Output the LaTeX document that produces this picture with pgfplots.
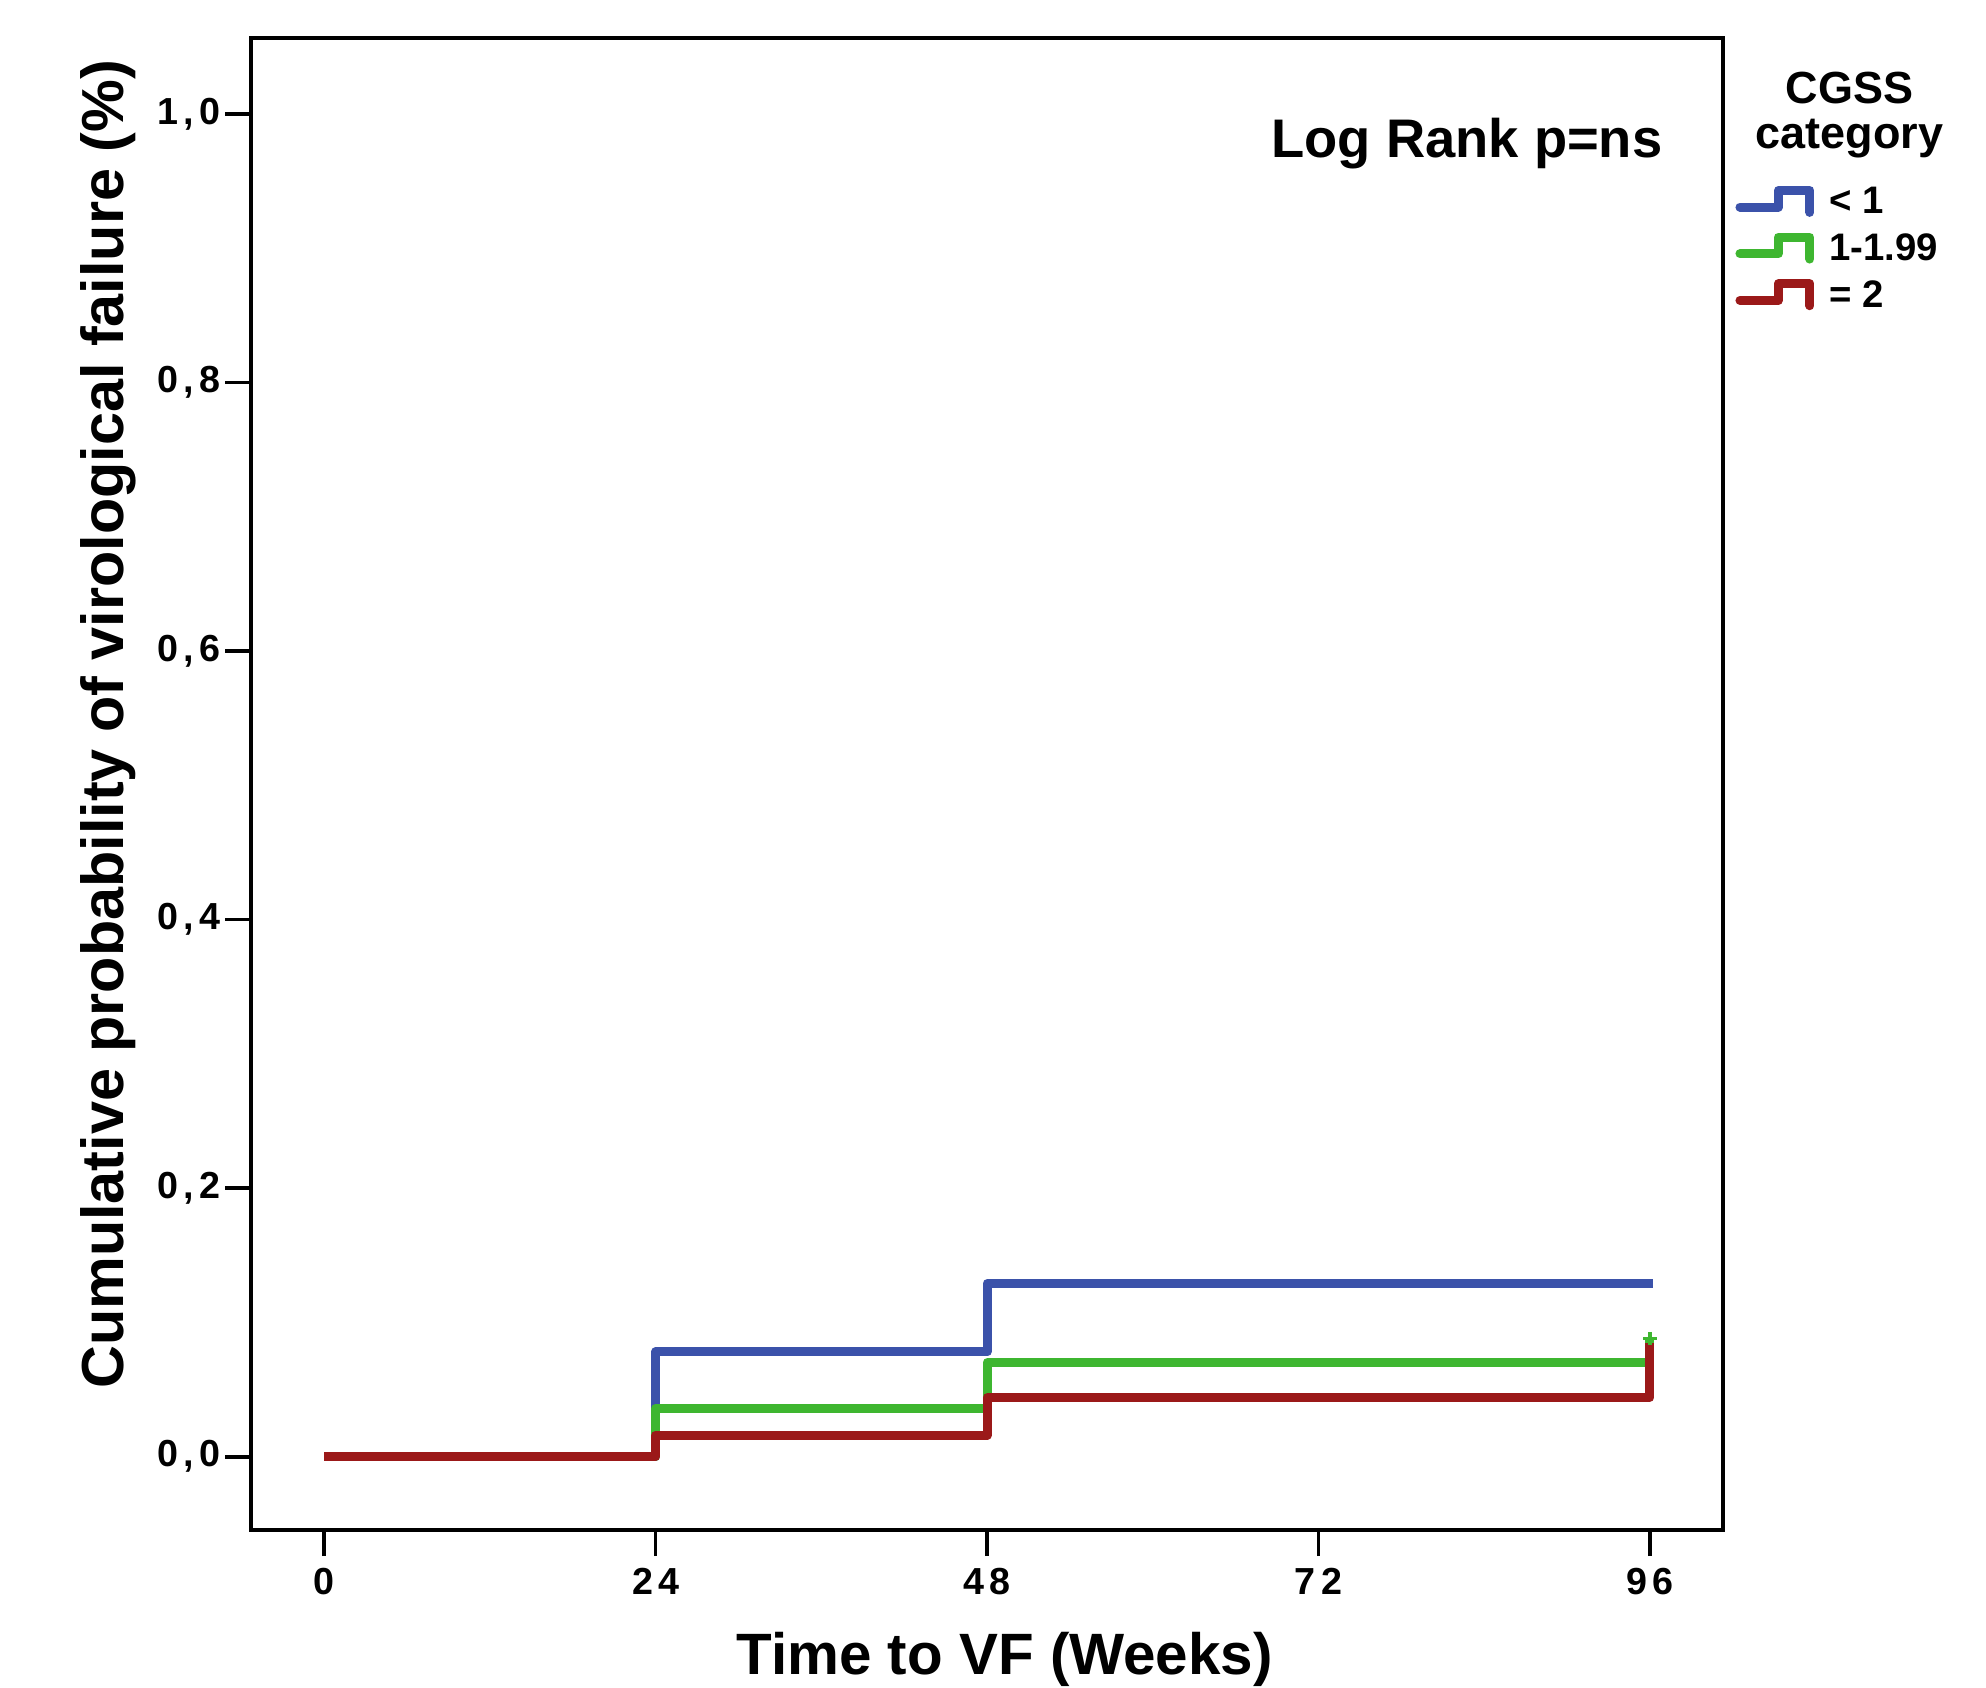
\documentclass[border=0pt]{standalone}
\usepackage{fontspec}
\setmainfont{Liberation Sans}
\newfontfamily\tickfont[LetterSpace=14]{Liberation Sans}
\usepackage{pgfplots}
\pgfplotsset{compat=1.18}
\definecolor{kmblue}{RGB}{59,82,170}
\definecolor{kmgreen}{RGB}{62,182,48}
\definecolor{kmred}{RGB}{155,25,25}
\begin{document}
\begin{tikzpicture}
\begin{axis}[
  scale only axis, width=441.6pt, height=447.6pt,
  xmin=-5.3, xmax=101.3, ymin=-0.0546, ymax=1.0566,
  clip=false,
  axis line style={line width=1.1pt},
  tick style={line width=1.1pt, black},
  major tick length=7.8pt,
  tick align=outside,
  xtick pos=bottom, ytick pos=left,
  xtick={0,24,48,72,96}, xticklabels={0,24,48,72,96},
  ytick={0,0.2,0.4,0.6,0.8,1.0},
  yticklabels={{0,0},{0,2},{0,4},{0,6},{0,8},{1,0}},
  ticklabel style={font=\tickfont\bfseries\fontsize{11.3}{13}\selectfont},
  yticklabel style={inner sep=1.2pt},
  xlabel={Time to VF (Weeks)},
  ylabel={Cumulative probability of virological failure (\%)},
  xlabel style={font=\bfseries\fontsize{17.5}{20}\selectfont, at={(axis description cs:0.512,-0.0865)}, anchor=center},
  ylabel style={font=\bfseries\fontsize{17.8}{20}\selectfont, at={(axis description cs:-0.097,0.54)}, anchor=center},
  legend style={at={(axis description cs:1.008,0.905)}, anchor=north west,
    draw=none, fill=none, inner sep=0pt,
    font=\bfseries\fontsize{11.5}{13.8}\selectfont,
    nodes={inner sep=0.5pt, text height=9.5pt, text depth=3.5pt},
    column sep=4pt},
  legend cell align=left,
  legend image code/.code={\draw[#1, line join=round, line cap=round] (0pt,-1pt) -- (11.5pt,-1pt) -- (11.5pt,4pt) -- (21pt,4pt) -- (21pt,-2.6pt);},
]
\addplot[kmblue, line width=2.7pt, line join=round] coordinates {(0,0) (24,0) (24,0.078) (48,0.078) (48,0.129) (96.2,0.129)};
\addlegendentry{< 1}
\addplot[kmgreen, line width=2.7pt, line join=round] coordinates {(0,0) (24,0) (24,0.036) (48,0.036) (48,0.070) (96,0.070) (96,0.088)};
\addlegendentry{1-1.99}
\addplot[kmred, line width=2.7pt, line join=round] coordinates {(0,0) (24,0) (24,0.016) (48,0.016) (48,0.044) (96,0.044) (96,0.085)};
\addlegendentry{= 2}
\addplot[kmgreen, only marks, mark=+, mark size=2pt, line width=1pt, forget plot] coordinates {(96,0.088)};
\coordinate (LL) at (rel axis cs:0,0);
\node[font=\bfseries\fontsize{16.3}{19}\selectfont, anchor=base] at (rel axis cs:0.826,0.920) {Log Rank p=ns};
\node[font=\bfseries\fontsize{13.5}{16}\selectfont, anchor=base] at (rel axis cs:1.086,0.956) {CGSS};
\node[font=\bfseries\fontsize{13.5}{16}\selectfont, anchor=base] at (rel axis cs:1.086,0.926) {category};
\end{axis}
\pgfresetboundingbox
\path[use as bounding box] (LL) ++(-75.3pt,-47.1pt) rectangle ++(595.8pt,506.1pt);
\end{tikzpicture}
\end{document}
